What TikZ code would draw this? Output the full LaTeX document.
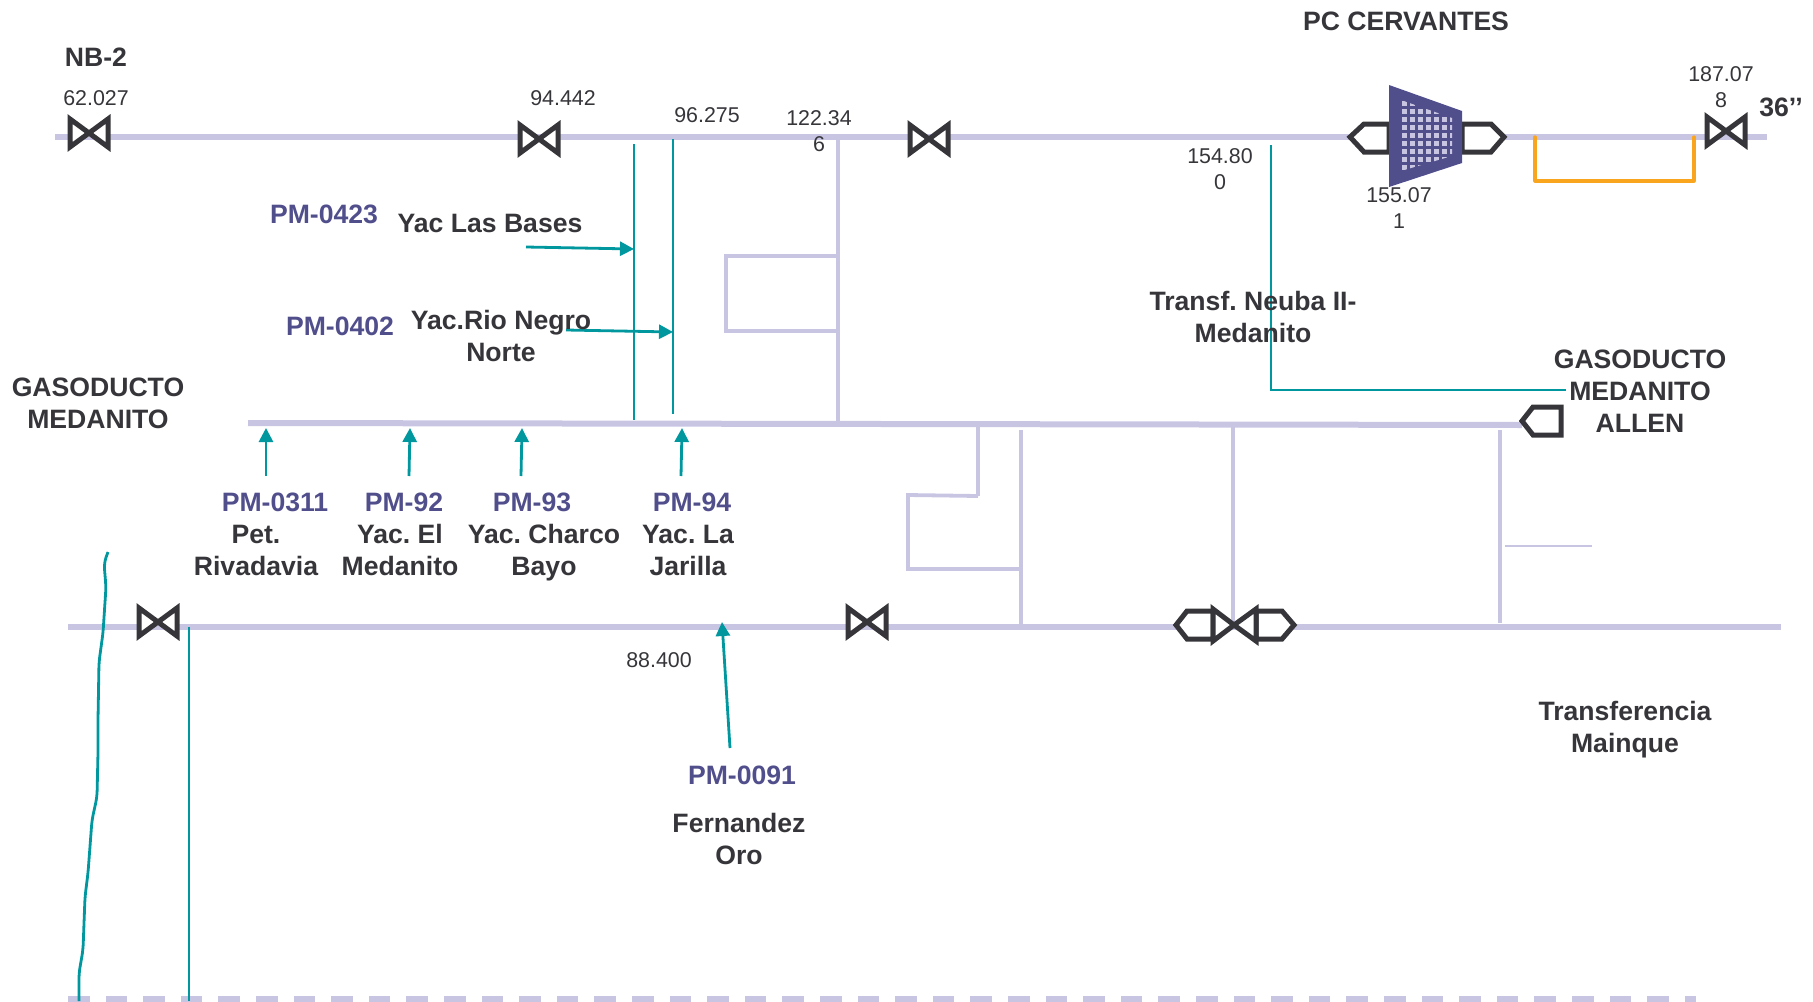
\documentclass[tikz,border=0pt]{standalone}
\usepackage{fontspec}
\setmainfont{Liberation Sans}
\usepackage{tikz}
\usetikzlibrary{arrows.meta}
\definecolor{pipelav}{HTML}{C8C5E3}
\definecolor{feedteal}{HTML}{00979F}
\definecolor{loopgold}{HTML}{F9A51E}
\definecolor{darkgrey}{HTML}{35353A}
\definecolor{compblue}{HTML}{514E8C}
\tikzset{
  pipe/.style={line width=3pt,pipelav},
  branch/.style={line width=1.9pt,pipelav},
  feed/.style={line width=1.4pt,feedteal},
  feedarrow/.style={feed,-{Triangle[length=7pt,width=7pt]}},
  symb/.style={line width=2.5pt,darkgrey,fill=white,miter limit=3},
  placelbl/.style={font=\fontsize{13.3}{16}\selectfont\bfseries\frenchspacing,text=darkgrey,align=center,inner sep=0pt},
  pmlbl/.style={font=\fontsize{13.3}{16}\selectfont\bfseries,text=compblue,align=center,inner sep=0pt},
  kplbl/.style={font=\fontsize{10.7}{13}\selectfont,text=darkgrey,align=center,inner sep=0pt}
}
\newcommand{\valve}[1]{\draw[symb,shift={(#1)}] (-19,-14) -- (19,14) -- (19,-14) -- (-19,14) -- cycle;}
\begin{document}
\begin{tikzpicture}[x=0.5pt,y=-0.5pt]
      \useasboundingbox (0,0) rectangle (1813,1001);

      % main lines
      \coordinate (topw) at (55,137);
      \coordinate (tope) at (1767,137);
      \coordinate (midw) at (248,423);
      \coordinate (mide) at (1522,425);
      \coordinate (botw) at (68,627);
      \coordinate (bote) at (1781,627);
      \coordinate (dashw) at (68,999);
      \coordinate (dashe) at (1696,999);
      \draw [pipe] (topw) -- (tope);
      \draw [pipe] (midw) -- (mide);
      \draw [pipe] (botw) -- (bote);
      \draw [pipe,dash pattern=on 10.8pt off 8pt] (dashw) -- (dashe);

      % branches
      \coordinate (br1t) at (838,137);
      \coordinate (br1b) at (838,423);
      \coordinate (lp1a) at (838,256);
      \coordinate (lp1b) at (726,256);
      \coordinate (lp1c) at (726,331);
      \coordinate (lp1d) at (838,331);
      \coordinate (br2t) at (978,425);
      \coordinate (br2b) at (978,496);
      \coordinate (lp2a) at (908,495);
      \coordinate (lp2b) at (908,569);
      \coordinate (br3t) at (1021,430);
      \coordinate (br3b) at (1021,625);
      \coordinate (lp2c) at (1021,569);
      \coordinate (br4t) at (1233,425);
      \coordinate (br4b) at (1233,627);
      \coordinate (br5t) at (1500,430);
      \coordinate (br5b) at (1500,623);
      \coordinate (stuba) at (1505,546);
      \coordinate (stubb) at (1592,546);
      \draw [branch] (br1t) -- (br1b);
      \draw [branch] (lp1a) -- (lp1b) -- (lp1c) -- (lp1d);
      \draw [branch] (br2t) -- (br2b);
      \draw [branch] (br2b) -- (lp2a) -- (lp2b) -- (lp2c);
      \draw [branch] (br3t) -- (br3b);
      \draw [branch] (br4t) -- (br4b);
      \draw [branch] (br5t) -- (br5b);
      \draw [pipelav,line width=1.1pt] (stuba) -- (stubb);

      % gold loop
      \coordinate (lpga) at (1535,137);
      \coordinate (lpgb) at (1535,181);
      \coordinate (lpgc) at (1694,181);
      \coordinate (lpgd) at (1694,137);
      \draw [loopgold,line width=1.6pt,line join=round,line cap=round] (lpga) -- (lpgb) -- (lpgc) -- (lpgd);

      % teal feeds
      \coordinate (fa) at (634,144);
      \coordinate (fb) at (634,420);
      \coordinate (fc) at (673,139);
      \coordinate (fd) at (673,414);
      \coordinate (fe) at (1271,145);
      \coordinate (ff) at (1271,390);
      \coordinate (fg) at (1566,390);
      \coordinate (fh) at (189,627);
      \coordinate (fi) at (189,1001);
      \draw [feed] (fa) -- (fb);
      \draw [feed] (fc) -- (fd);
      \draw [feed] (fe) -- (ff) -- (fg);
      \draw [feed] (fh) -- (fi);
      \draw [feed,rounded corners=3pt] (108,552) -- (104,563) -- (106,587) -- (103,633) -- (99,662) -- (98,720) -- (98,753) -- (97,797) -- (92,820) -- (88,873) -- (85,897) -- (83,950) -- (79,973) -- (79,1001);

      \coordinate (a1s) at (526,247);
      \coordinate (a1e) at (634,249);
      \coordinate (a2s) at (566,330);
      \coordinate (a2e) at (673,332);
      \coordinate (a3s) at (266,476);
      \coordinate (a3e) at (266,428);
      \coordinate (a4s) at (409,476);
      \coordinate (a4e) at (410,428);
      \coordinate (a5s) at (521,476);
      \coordinate (a5e) at (522,428);
      \coordinate (a6s) at (681,476);
      \coordinate (a6e) at (682,428);
      \coordinate (a7s) at (730,748);
      \coordinate (a7e) at (722,622);
      \draw [feedarrow] (a1s) -- (a1e);
      \draw [feedarrow] (a2s) -- (a2e);
      \draw [feedarrow] (a3s) -- (a3e);
      \draw [feedarrow] (a4s) -- (a4e);
      \draw [feedarrow] (a5s) -- (a5e);
      \draw [feedarrow] (a6s) -- (a6e);
      \draw [feedarrow] (a7s) -- (a7e);

      % valves
      \valve{89,133}
      \valve{539,139}
      \valve{929,139}
      \valve{1726,131}
      \valve{158,622}
      \valve{867,622}

      % double valve with flanges
      \draw [symb] (1213,611) -- (1187,611) -- (1176,625) -- (1187,639) -- (1213,639) -- cycle;
      \draw [symb] (1256,611) -- (1282,611) -- (1294,625) -- (1282,639) -- (1256,639) -- cycle;
      \draw [symb] (1213,609) -- (1234,625) -- (1213,641) -- cycle;
      \draw [symb] (1256,609) -- (1234,625) -- (1256,641) -- cycle;

      % end flange
      \draw [symb] (1561,407) -- (1533,407) -- (1522,421) -- (1533,435) -- (1561,435) -- cycle;

      % compressor
      \draw [symb] (1389,124) -- (1364,124) -- (1350,137) -- (1364,152) -- (1389,152) -- cycle;
      \draw [symb] (1462,124) -- (1491,124) -- (1504,137) -- (1491,152) -- (1462,152) -- cycle;
      \fill [compblue] (1389,85) -- (1462,111) -- (1462,163) -- (1389,187) -- cycle;
      \begin{scope}
        \clip (1401,100) -- (1452,118) -- (1452,156) -- (1401,171) -- cycle;
        \foreach \gx in {0,...,6}
          \foreach \gy in {0,...,8}
            \fill [pipelav] (1402+8*\gx,101+8*\gy) rectangle +(5,5);
      \end{scope}

      % labels
      \node [placelbl] (nbtwo) at (96,57) {NB-2};
      \node [kplbl] (kma) at (96,98) {62.027};
      \node [kplbl] (kmb) at (563,98) {94.442};
      \node [kplbl] (kmc) at (707,115) {96.275};
      \node [kplbl] (kmd) at (819,131) {122.34\\6};
      \node [placelbl] (pccer) at (1406,21) {PC CERVANTES};
      \node [kplbl] (kme) at (1721,87) {187.07\\8};
      \node [placelbl] (thirtysix) at (1781,107) {36’’};
      \node [kplbl] (kmf) at (1220,169) {154.80\\0};
      \node [kplbl] (kmg) at (1399,208) {155.07\\1};
      \node [pmlbl] (pmbases) at (324,214) {PM-0423};
      \node [placelbl] (yacbases) at (490,223) {Yac Las Bases};
      \node [pmlbl] (pmrio) at (340,326) {PM-0402};
      \node [placelbl] (yacrio) at (501,336) {Yac.Rio Negro\\Norte};
      \node [placelbl] (transf) at (1253,317) {Transf. Neuba II-\\Medanito};
      \node [placelbl,xshift=1pt] (gasallen) at (1638,391) {GASODUCTO\\MEDANITO\\ALLEN};
      \node [placelbl] (gasmed) at (98,403) {GASODUCTO\\MEDANITO};
      \node [pmlbl] (pmpet) at (275,502) {PM-0311};
      \node [placelbl] (yacpet) at (256,550) {Pet.\\Rivadavia};
      \node [pmlbl] (pmmed) at (404,502) {PM-92};
      \node [placelbl] (yacmed) at (400,550) {Yac. El\\Medanito};
      \node [pmlbl] (pmcha) at (532,502) {PM-93};
      \node [placelbl] (yaccha) at (544,553) {Yac. Charco\\Bayo};
      \node [pmlbl] (pmjar) at (692,502) {PM-94};
      \node [placelbl] (yacjar) at (688,550) {Yac. La\\Jarilla};
      \node [kplbl] (kmh) at (659,660) {88.400};
      \node [pmlbl] (pmfer) at (742,775) {PM-0091};
      \node [placelbl] (fernan) at (739,839) {Fernandez\\Oro};
      \node [placelbl] (mainque) at (1625,730) {Transferencia\\Mainque};

    \end{tikzpicture}
\end{document}
